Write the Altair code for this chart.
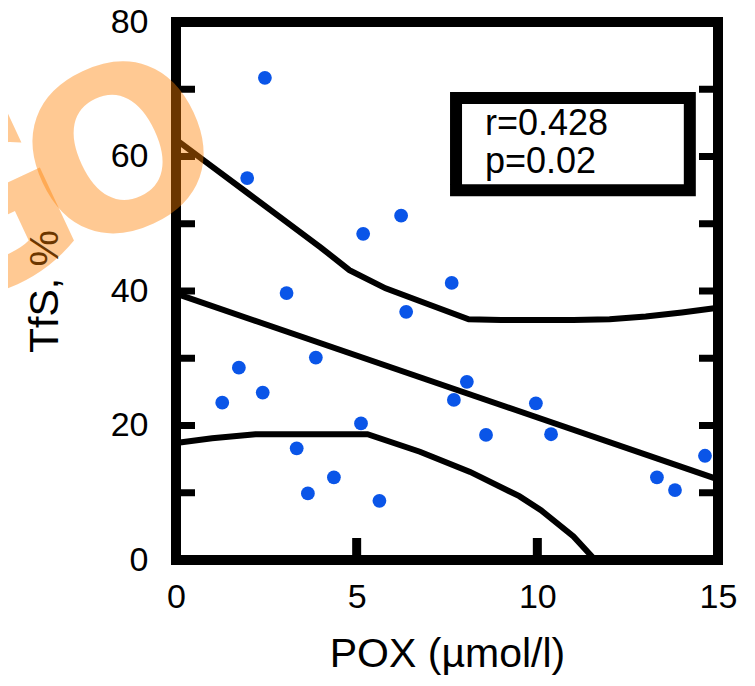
import altair as alt
import pandas as pd

# ---- data ----
pox = [2.46, 1.97, 1.28, 1.74, 2.40, 3.06, 3.87, 3.34, 3.65, 4.37, 5.18, 5.12,
       5.63, 6.23, 6.37, 7.63, 7.69, 8.05, 8.58, 9.96, 10.38, 13.31, 13.81, 14.64]
tfs = [71.7, 56.8, 23.4, 28.6, 24.9, 39.7, 30.1, 16.6, 9.9, 12.3, 48.5, 20.3,
       8.8, 51.2, 36.9, 41.2, 23.8, 26.5, 18.6, 23.3, 18.7, 12.3, 10.4, 15.5]

reg_x = [0, 15]
reg_y = [39.6, 12.0]

upper_x = [0, 1, 2, 3, 4, 4.8, 5.8, 7, 8.1, 9, 10, 11, 12, 13, 14, 15]
upper_y = [62.5, 58.5, 54.5, 50.5, 46.5, 43.1, 40.4, 38.0, 35.8, 35.7, 35.7, 35.7, 35.8, 36.2, 36.8, 37.5]

lower_x = [0, 1, 2.2, 5.3, 6.75, 8.14, 9.5, 10.1, 11.0, 11.6]
lower_y = [17.4, 18.1, 18.7, 18.7, 16.1, 13.1, 9.5, 7.4, 3.5, 0.0]

x_labels = [0, 5, 10, 15]
y_labels = [0, 20, 40, 60, 80]
y_ticks = [10, 20, 30, 40, 50, 60, 70]
x_ticks = [5, 10]

stats_text = ["r=0.428", "p=0.02"]
stats_x = [8.55, 8.55]
stats_y = [63.2, 57.5]
box_x = [7.75]
box_x2 = [14.22]
box_y = [68.7]
box_y2 = [55.0]

wm_letters = ["G", "O"]

W, H = 542, 538
FONT = "Liberation Sans"

xs = alt.Scale(domain=[0, 15], nice=False, zero=False)
ys = alt.Scale(domain=[0, 80], nice=False)

x_axis = alt.Axis(values=x_labels, ticks=False, domain=False, grid=False,
                  labelFontSize=34, labelPadding=20, labelFlush=False,
                  labelColor="black", labelFont=FONT,
                  title="POX (µmol/l)", titleFontSize=41, titleFont=FONT,
                  titleFontWeight="normal", titleColor="black", titlePadding=20)
y_axis = alt.Axis(values=y_labels, ticks=False, domain=False, grid=False,
                  labelFontSize=34, labelPadding=28, labelFlush=False,
                  labelColor="black", labelFont=FONT,
                  title="TfS, %", titleFontSize=41, titleFont=FONT,
                  titleFontWeight="normal", titleColor="black", titlePadding=44)

pts_df = pd.DataFrame({"pox": pox, "tfs": tfs})

points = alt.Chart(pts_df).mark_circle(size=190, color="#0A55E8", opacity=1).encode(
    x=alt.X("pox:Q", scale=xs, axis=x_axis),
    y=alt.Y("tfs:Q", scale=ys, axis=y_axis),
)

def line_layer(xv, yv):
    d = pd.DataFrame({"x": xv, "y": yv})
    return alt.Chart(d).mark_line(color="black", strokeWidth=6).encode(
        x=alt.X("x:Q", scale=xs), y=alt.Y("y:Q", scale=ys))

reg = line_layer(reg_x, reg_y)
upper = line_layer(upper_x, upper_y)
lower = line_layer(lower_x, lower_y)

yt_df = pd.DataFrame({"v": y_ticks})
xt_df = pd.DataFrame({"v": x_ticks})

left_ticks = alt.Chart(yt_df).mark_rule(color="black", strokeWidth=7).encode(
    y=alt.Y("v:Q", scale=ys), x=alt.value(0), x2=alt.value(19))
right_ticks = alt.Chart(yt_df).mark_rule(color="black", strokeWidth=7).encode(
    y=alt.Y("v:Q", scale=ys), x=alt.value(W - 19), x2=alt.value(W))
bottom_ticks = alt.Chart(xt_df).mark_rule(color="black", strokeWidth=9).encode(
    x=alt.X("v:Q", scale=xs), y=alt.value(H - 22), y2=alt.value(H))

box_df = pd.DataFrame({"x": box_x, "x2": box_x2, "y": box_y, "y2": box_y2})
box = alt.Chart(box_df).mark_rect(fillOpacity=0, stroke="black", strokeWidth=12).encode(
    x=alt.X("x:Q", scale=xs), x2="x2:Q", y=alt.Y("y:Q", scale=ys), y2="y2:Q")

st_df = pd.DataFrame({"t": stats_text, "x": stats_x, "y": stats_y})
stats = alt.Chart(st_df).mark_text(align="left", baseline="alphabetic", fontSize=36,
                                   font=FONT, color="black").encode(
    x=alt.X("x:Q", scale=xs), y=alt.Y("y:Q", scale=ys), text="t:N")

def wm_letter(letter, px, py, size):
    d = pd.DataFrame({"t": [letter]})
    return alt.Chart(d).mark_text(align="center", baseline="middle", fontSize=size,
                                  fontWeight="bold", font="DejaVu Sans", angle=335,
                                  color="#FF8000", opacity=0.42).encode(
        x=alt.value(px), y=alt.value(py), text="t:N")

wm_g = wm_letter(wm_letters[0], -196, 200, 230)
wm_o = wm_letter(wm_letters[1], -52, 138, 222)

chart = alt.layer(left_ticks, right_ticks, bottom_ticks, points, reg, upper, lower,
                  box, stats, wm_g, wm_o).properties(
    width=W, height=H,
    autosize=alt.AutoSizeParams(type="none"),
    padding={"left": 168, "top": 14, "right": 29, "bottom": 116},
).configure(background="white").configure_view(stroke="black", strokeWidth=10)

chart.save("out.html", embed_options={"renderer": "svg", "actions": False})
